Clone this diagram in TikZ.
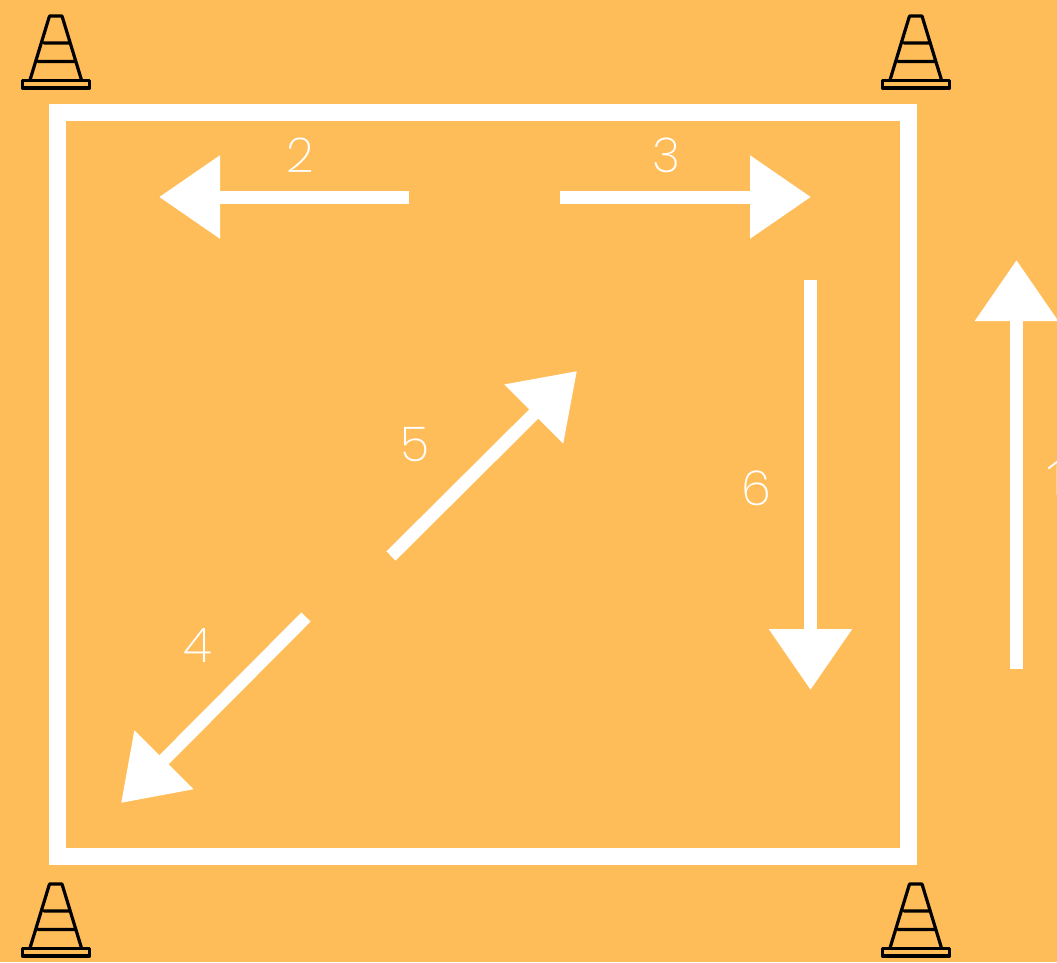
\documentclass[tikz,border=0pt]{standalone}
\usepackage{fontspec}
\setmainfont{Poppins ExtraLight}
\newfontfamily\onefont{Open Sans Light}
\usetikzlibrary{arrows.meta}
\definecolor{bgorange}{HTML}{FFBD59}
\tikzset{
  move/.style={draw=white,line width=13pt,-{Triangle[length=61pt,width=80pt,fill=white]}},
  digit/.style={text=white,inner sep=0pt,font=\fontsize{48}{48}\selectfont},
  fieldframe/.style={draw=white,line width=17pt,miter limit=10},
  conepic/.pic={
    \draw[black,line width=3.2pt,line join=round,line cap=round]
      (-6.5,-39) -- (6,-39) -- (25.5,25) (-6.5,-39) -- (-26,25)
      (-12,-12) -- (13,-12) (-18,6.5) -- (19,6.5);
    \draw[black,line width=3.2pt,line join=round] (-33.5,25.5) rectangle (33.5,33);
  }
}
\begin{document}
\begin{tikzpicture}[x=1pt,y=-1pt]
\useasboundingbox (0,0) rectangle (1057,962);
\fill[bgorange] (0,0) rectangle (1057,962);
\draw[fieldframe] (57.5,112) rectangle (908.5,856.5);
\pic at (56,55) {conepic};
\pic at (916,55) {conepic};
\pic at (56,923) {conepic};
\pic at (916,923) {conepic};
\coordinate (a1s) at (1016.5,669); \coordinate (a1e) at (1016.5,260);
\coordinate (a2s) at (409,197);    \coordinate (a2e) at (159,197);
\coordinate (a3s) at (560,197);    \coordinate (a3e) at (811,197);
\coordinate (a4s) at (306,617);    \coordinate (a4e) at (121,803);
\coordinate (a5s) at (391,556);    \coordinate (a5e) at (577,371);
\coordinate (a6s) at (810.5,280);  \coordinate (a6e) at (810.5,690);
\draw[move] (a1s) -- (a1e);
\draw[move] (a2s) -- (a2e);
\draw[move] (a3s) -- (a3e);
\draw[move] (a4s) -- (a4e);
\draw[move] (a5s) -- (a5e);
\draw[move] (a6s) -- (a6e);
\node[digit,anchor=west] (n1) at (1043.5,478) {\onefont 1};
\node[digit] (n2) at (300,155) {2};
\node[digit] (n3) at (666,155) {3};
\node[digit] (n4) at (198,645) {4};
\node[digit] (n5) at (415,445) {5};
\node[digit] (n6) at (756,488) {6};
\end{tikzpicture}
\end{document}
